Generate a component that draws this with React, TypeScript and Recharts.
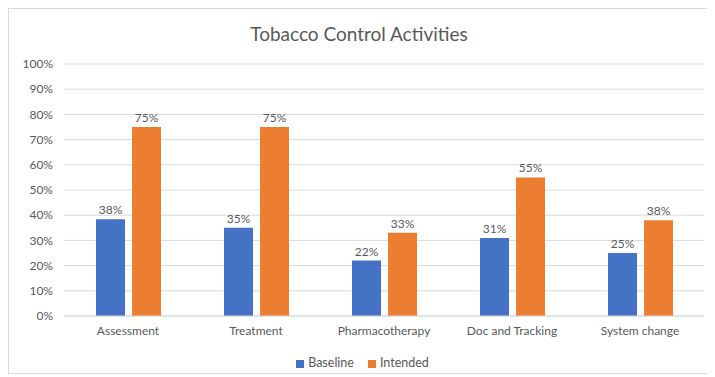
import React from 'react';
import { BarChart, Bar, XAxis, YAxis, CartesianGrid, Legend, LabelList } from 'recharts';

const categories = ['Assessment', 'Treatment', 'Pharmacotherapy', 'Doc and Tracking', 'System change'];
const baseline = [38.4, 35, 22, 31, 25];
const intended = [75, 75, 33, 55, 38];
const yTicks = [0, 10, 20, 30, 40, 50, 60, 70, 80, 90, 100];

const data = categories.map((name, i) => ({ name, Baseline: baseline[i], Intended: intended[i] }));

const FONT = 'Lato, "Open Sans", sans-serif';
const pct = (v: any) => `${Math.round(Number(v))}%`;

export default function App() {
  return (
    <div style={{ position: 'relative', width: 702, height: 366, border: '1px solid #d9d9d9', boxSizing: 'border-box', fontFamily: FONT, background: '#fff' }}>
      <div style={{ position: 'absolute', top: 13, left: 0, width: '100%', textAlign: 'center', fontSize: 19, color: '#595959', fontFamily: FONT }}>
        Tobacco Control Activities
      </div>
      <BarChart
        width={700}
        height={364}
        data={data}
        margin={{ top: 55, right: 5, left: 0, bottom: 12 }}
        barGap={7}
        barSize={29}
      >
        <CartesianGrid vertical={false} stroke="#d9d9d9" />
        <XAxis
          dataKey="name"
          axisLine={{ stroke: '#d9d9d9' }}
          tickLine={false}
          tick={{ fill: '#595959', fontSize: 12, fontFamily: FONT }}
          tickMargin={4}
          height={30}
        />
        <YAxis
          domain={[0, 100]}
          ticks={yTicks}
          tickFormatter={pct}
          axisLine={false}
          tickLine={false}
          tick={{ fill: '#595959', fontSize: 12, fontFamily: FONT }}
          tickMargin={5}
          width={55}
          interval={0}
        />
        <Legend
          verticalAlign="bottom"
          iconType="square"
          iconSize={8}
          wrapperStyle={{ fontSize: 12.5, color: '#595959', fontFamily: FONT, bottom: 3, paddingLeft: 11 }}
          formatter={(v: any) => (
            <span style={{ color: '#595959', marginRight: v === 'Baseline' ? 4 : 0 }}>{v}</span>
          )}
        />
        <Bar dataKey="Baseline" fill="#4472C4" isAnimationActive={false}>
          <LabelList dataKey="Baseline" position="top" formatter={pct} fill="#595959" fontSize={12} fontFamily={FONT} />
        </Bar>
        <Bar dataKey="Intended" fill="#ED7D31" isAnimationActive={false}>
          <LabelList dataKey="Intended" position="top" formatter={pct} fill="#595959" fontSize={12} fontFamily={FONT} />
        </Bar>
      </BarChart>
    </div>
  );
}
